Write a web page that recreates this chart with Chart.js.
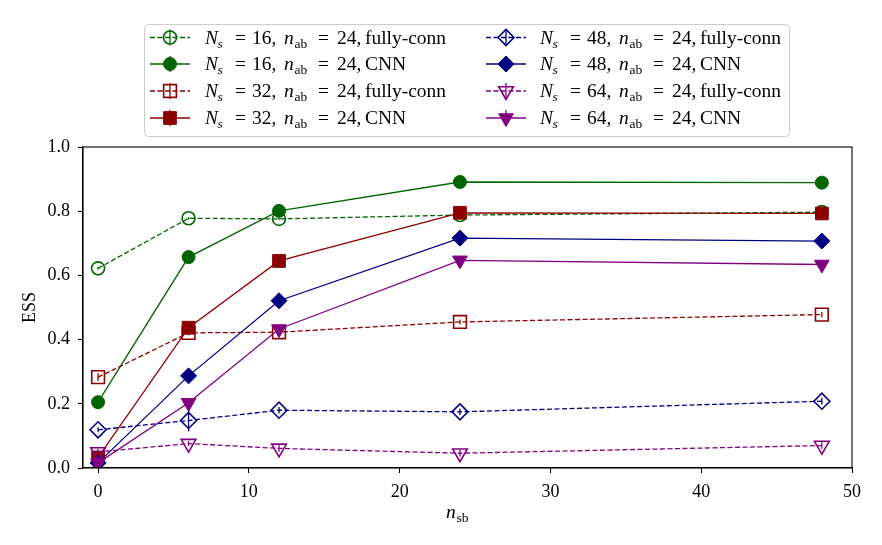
<!DOCTYPE html>
<html>
<head>
<meta charset="utf-8">
<script src="https://cdn.jsdelivr.net/npm/chart.js@4.4.1/dist/chart.umd.min.js"></script>
<style>
  html, body { margin: 0; padding: 0; background: #fff; }
  #wrap { width: 882px; height: 545px; }
</style>
</head>
<body>
<div id="wrap"><canvas id="myChart" width="882" height="545"></canvas></div>
<script>
// n_sb values on the x axis
const nsb = [0, 6, 12, 24, 48];

// ESS values
const ess16fc  = [0.622, 0.778, 0.776, 0.788, 0.797];
const ess16cnn = [0.205, 0.657, 0.801, 0.891, 0.889];
const ess32fc  = [0.283, 0.421, 0.423, 0.455, 0.478];
const ess32cnn = [0.033, 0.437, 0.645, 0.795, 0.793];
const ess48fc  = [0.119, 0.148, 0.180, 0.175, 0.208];
const ess48cnn = [0.016, 0.287, 0.521, 0.716, 0.707];
const ess64fc  = [0.050, 0.076, 0.061, 0.046, 0.070];
const ess64cnn = [0.016, 0.203, 0.433, 0.647, 0.634];

// error bar half widths (mostly hidden inside the markers)
const err16fc  = [0.004, 0.004, 0.004, 0.004, 0.004];
const err16cnn = [0.010, 0.010, 0.008, 0.006, 0.006];
const err32fc  = [0.012, 0.008, 0.008, 0.008, 0.008];
const err32cnn = [0.015, 0.020, 0.012, 0.010, 0.008];
const err48fc  = [0.008, 0.034, 0.010, 0.010, 0.010];
const err48cnn = [0.010, 0.015, 0.012, 0.010, 0.010];
const err64fc  = [0.010, 0.008, 0.010, 0.010, 0.010];
const err64cnn = [0.010, 0.015, 0.012, 0.010, 0.010];

const nsValues = [16, 16, 32, 32, 48, 48, 64, 64];
const kinds = ["fully-conn", "CNN", "fully-conn", "CNN", "fully-conn", "CNN", "fully-conn", "CNN"];

const xTicks = [0, 10, 20, 30, 40, 50];
const yTicks = [0.0, 0.2, 0.4, 0.6, 0.8, 1.0];

const FONT = "'Liberation Serif', 'DejaVu Serif', serif";
const green = "#006400", red = "#8b0000", navy = "#000080", purple = "#800080";

const series = [
  { y: ess16fc,  e: err16fc,  color: green,  style: "circle",  r: 6.5, open: true },
  { y: ess16cnn, e: err16cnn, color: green,  style: "circle",  r: 6.5, open: false },
  { y: ess32fc,  e: err32fc,  color: red,    style: "rect",    r: 9,   open: true },
  { y: ess32cnn, e: err32cnn, color: red,    style: "rect",    r: 9,   open: false },
  { y: ess48fc,  e: err48fc,  color: navy,   style: "rectRot", r: 8,   open: true },
  { y: ess48cnn, e: err48cnn, color: navy,   style: "rectRot", r: 8,   open: false },
  { y: ess64fc,  e: err64fc,  color: purple, style: "triangle", r: 8.5, open: true, rot: 180 },
  { y: ess64cnn, e: err64cnn, color: purple, style: "triangle", r: 8.5, open: false, rot: 180 },
];

const datasets = series.map((s, i) => ({
  label: "Ns=" + nsValues[i] + ", nab=24, " + kinds[i],
  data: nsb.map((x, j) => ({ x: x, y: s.y[j] })),
  borderColor: s.color,
  borderWidth: 1.3,
  borderDash: s.open ? [5, 2.5] : [],
  pointStyle: s.style,
  pointRotation: s.rot || 0,
  pointRadius: s.r,
  pointHoverRadius: s.r,
  pointBorderWidth: s.open ? 1.6 : 1,
  pointBackgroundColor: s.open ? "rgba(0,0,0,0)" : s.color,
  pointBorderColor: s.color,
  tension: 0,
  fill: false,
  order: series.length - i,
}));

function drawMarker(ctx, s, x, y) {
  ctx.save();
  ctx.lineWidth = s.open ? 1.6 : 1;
  ctx.strokeStyle = s.color;
  ctx.fillStyle = s.open ? "rgba(0,0,0,0)" : s.color;
  if (Chart.helpers && Chart.helpers.drawPoint) {
    Chart.helpers.drawPoint(ctx, { pointStyle: s.style, rotation: s.rot || 0, radius: s.r, borderWidth: ctx.lineWidth }, x, y);
  } else {
    ctx.beginPath(); ctx.arc(x, y, s.r, 0, Math.PI * 2); ctx.fill(); ctx.stroke();
  }
  ctx.restore();
}

// text pieces placed at offsets from the start, slightly widened like the TeX font
function drawMath(ctx, parts, x, y) {
  parts.forEach(p => {
    const size = p.sub ? 12.5 : 18;
    ctx.save();
    ctx.font = (p.it ? "italic " : "") + size + "px " + FONT;
    ctx.translate(x + p.dx, y + (p.sub ? 4 : 0));
    ctx.scale(1.08, 1);
    ctx.fillText(p.t, 0, 0);
    ctx.restore();
  });
}

function labelParts(i) {
  return [
    { t: "N", it: true, dx: 0 }, { t: "s", it: true, sub: true, dx: 12.5 },
    { t: "=", dx: 30 }, { t: nsValues[i] + ",", dx: 47 },
    { t: "n", it: true, dx: 79 }, { t: "ab", sub: true, dx: 89.5 },
    { t: "=", dx: 113 }, { t: "24,", dx: 132 },
    { t: kinds[i], dx: 160 },
  ];
}

const extras = {
  id: "extras",
  beforeDatasetsDraw(chart) {
    const ctx = chart.ctx, xs = chart.scales.x, ys = chart.scales.y;
    ctx.save();
    series.forEach((s, i) => {
      ctx.strokeStyle = s.color;
      ctx.lineWidth = 1.3;
      nsb.forEach((x, j) => {
        const px = xs.getPixelForValue(x);
        ctx.beginPath();
        ctx.moveTo(px, ys.getPixelForValue(s.y[j] - s.e[j]));
        ctx.lineTo(px, ys.getPixelForValue(s.y[j] + s.e[j]));
        ctx.stroke();
      });
    });
    ctx.restore();
  },
  afterDraw(chart) {
    const ctx = chart.ctx, a = chart.chartArea;
    ctx.save();
    // frame
    ctx.strokeStyle = "#000";
    ctx.lineWidth = 1.1;
    ctx.strokeRect(a.left, a.top, a.right - a.left, a.bottom - a.top);

    // axis titles
    ctx.fillStyle = "#000";
    ctx.textBaseline = "alphabetic";
    ctx.font = "18px " + FONT;
    ctx.save();
    ctx.translate(35, (a.top + a.bottom) / 2);
    ctx.rotate(-Math.PI / 2);
    ctx.textAlign = "center";
    ctx.fillText("ESS", 0, 0);
    ctx.restore();
    ctx.textAlign = "left";
    drawMath(ctx, [{ t: "n", it: true, dx: 0 }, { t: "sb", sub: true, dx: 10.5 }], 446, 518);

    // legend
    const bx = 144.5, by = 24.5, bw = 645, bh = 112;
    ctx.beginPath();
    ctx.roundRect(bx, by, bw, bh, 4);
    ctx.fillStyle = "rgba(255,255,255,0.8)";
    ctx.fill();
    ctx.strokeStyle = "#cccccc";
    ctx.lineWidth = 1;
    ctx.stroke();

    const rowsY = [37.5, 64, 91, 118];
    const cols = [{ x0: 150, tx: 205 }, { x0: 486, tx: 540 }];
    series.forEach((s, i) => {
      const col = cols[Math.floor(i / 4)], y = rowsY[i % 4];
      const mid = col.x0 + 20;
      ctx.save();
      ctx.strokeStyle = s.color;
      ctx.lineWidth = 1.3;
      ctx.setLineDash(s.open ? [5, 2.5] : []);
      ctx.beginPath();
      ctx.moveTo(col.x0, y); ctx.lineTo(col.x0 + 40, y);
      ctx.stroke();
      ctx.setLineDash([]);
      ctx.beginPath();
      ctx.moveTo(mid, y - 8); ctx.lineTo(mid, y + 8);
      ctx.stroke();
      ctx.restore();
      drawMarker(ctx, s, mid, y);
      ctx.fillStyle = "#000";
      drawMath(ctx, labelParts(i), col.tx, y + 6);
    });
    ctx.restore();
  },
};

const ctx = document.getElementById("myChart");

const myChart = new Chart(ctx, {
  type: "line",
  data: { datasets: datasets },
  options: {
    responsive: false,
    animation: false,
    devicePixelRatio: 1,
    layout: { padding: { left: 0, top: 147, right: 30, bottom: 0 } },
    plugins: { legend: { display: false }, tooltip: { enabled: false } },
    scales: {
      x: {
        type: "linear",
        min: -1,
        max: 50,
        afterFit: s => { s.height = 77; },
        afterBuildTicks: s => { s.ticks = xTicks.map(v => ({ value: v })); },
        grid: { drawOnChartArea: false, drawTicks: true, tickLength: 5, color: "#000", tickWidth: 1.1 },
        border: { display: true, color: "#000", width: 1.1 },
        ticks: { color: "#000", padding: 8, maxRotation: 0, font: { family: FONT, size: 18 }, callback: v => String(v) },
      },
      y: {
        type: "linear",
        min: 0,
        max: 1,
        afterFit: s => { s.width = 83; },
        afterBuildTicks: s => { s.ticks = yTicks.map(v => ({ value: v })); },
        grid: { drawOnChartArea: false, drawTicks: true, tickLength: 5, color: "#000", tickWidth: 1.1 },
        border: { display: true, color: "#000", width: 1.1 },
        ticks: { color: "#000", padding: 8, font: { family: FONT, size: 18 }, callback: v => Number(v).toFixed(1) },
      },
    },
  },
  plugins: [extras],
});
</script>
</body>
</html>
